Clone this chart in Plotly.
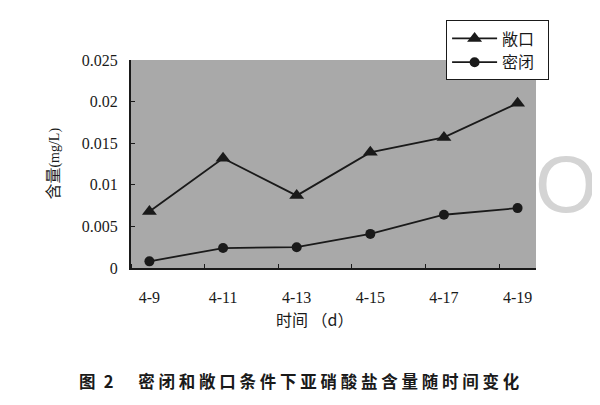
import plotly.graph_objects as go

dates = ["4-9", "4-11", "4-13", "4-15", "4-17", "4-19"]
open_vals = [0.0068, 0.0132, 0.0087, 0.0139, 0.0157, 0.0198]    # 敞口
sealed_vals = [0.0008, 0.0024, 0.0025, 0.0041, 0.0064, 0.0072]  # 密闭
y_ticks = [0, 0.005, 0.01, 0.015, 0.02, 0.025]
y_ticktext = ["0", "0.005", "0.01", "0.015", "0.02", "0.025"]

xs = list(range(len(dates)))
serif = "Liberation Serif"
cjk = "Noto Sans CJK SC"
caption = "图\u2002" + "2\u2003\u2002" + " ".join("密闭和敞口条件下亚硝酸盐含量随时间变化")

fig = go.Figure()
fig.add_trace(go.Scatter(x=xs, y=open_vals, name="敞口\u2002", mode="lines+markers",
                         line=dict(color="#1a1a1a", width=1.8),
                         marker=dict(symbol="triangle-up", size=13, color="#1a1a1a")))
fig.add_trace(go.Scatter(x=xs, y=sealed_vals, name="密闭\u2002", mode="lines+markers",
                         line=dict(color="#1a1a1a", width=1.8),
                         marker=dict(symbol="circle", size=10, color="#1a1a1a")))

# the page has an 8px body margin, so the figure is shifted and trimmed by 8px
fig.update_layout(
    width=592, height=397,
    margin=dict(l=123, r=64, t=49, b=137),
    paper_bgcolor="white", plot_bgcolor="#a9a9a9",
    font=dict(family=serif, size=16, color="#1a1a1a"),
    showlegend=True,
    legend=dict(x=0.778, y=1.19, xanchor="left", yanchor="top",
                bgcolor="white", bordercolor="#1a1a1a", borderwidth=1,
                font=dict(family=cjk, size=16), tracegroupgap=5,
                itemwidth=45),
)
fig.update_xaxes(range=[-0.25, 5.25], tickvals=xs, ticktext=dates, ticks="",
                 showgrid=False, zeroline=False, showline=True, linecolor="#1a1a1a",
                 linewidth=2, ticklabelstandoff=14,
                 tickfont=dict(family=serif, size=16),
                 minor=dict(tick0=-0.25, dtick=1, ticks="inside", ticklen=4,
                            tickcolor="#1a1a1a", showgrid=False))
fig.update_yaxes(range=[0, 0.025], tickvals=y_ticks, ticktext=y_ticktext,
                 ticks="inside", ticklen=4, tickcolor="#1a1a1a",
                 tickfont=dict(family=serif, size=16),
                 showgrid=False, zeroline=False, showline=True, linecolor="#1a1a1a",
                 linewidth=2, ticklabelstandoff=8)

fig.add_annotation(text="含量<span style='font-family:Liberation Serif;font-size:14px'>(mg/L)</span>",
                   xref="paper", yref="paper", x=-0.196, y=0.5, textangle=-90,
                   xanchor="center", yanchor="middle",
                   showarrow=False, font=dict(family=cjk, size=16, color="#1a1a1a"))
fig.add_annotation(text="时间 （d）",
                   xref="paper", yref="paper", x=0.455, y=-0.246,
                   xanchor="center", yanchor="middle", showarrow=False,
                   font=dict(family=cjk, size=16, color="#1a1a1a"))
fig.add_annotation(text="<b>" + caption + "</b>",
                   xref="paper", yref="paper", x=0.417, y=-0.545,
                   xanchor="center", yanchor="middle", showarrow=False,
                   font=dict(family=cjk, size=16.5, color="#1a1a1a"))
# faint watermark letter at the right edge
fig.add_annotation(text="O", xref="paper", yref="paper", x=1.074, y=0.4,
                   xanchor="center", yanchor="middle", showarrow=False,
                   font=dict(family="Liberation Sans", size=80, color="#d4d4d4"))

fig.write_html("out.html")
